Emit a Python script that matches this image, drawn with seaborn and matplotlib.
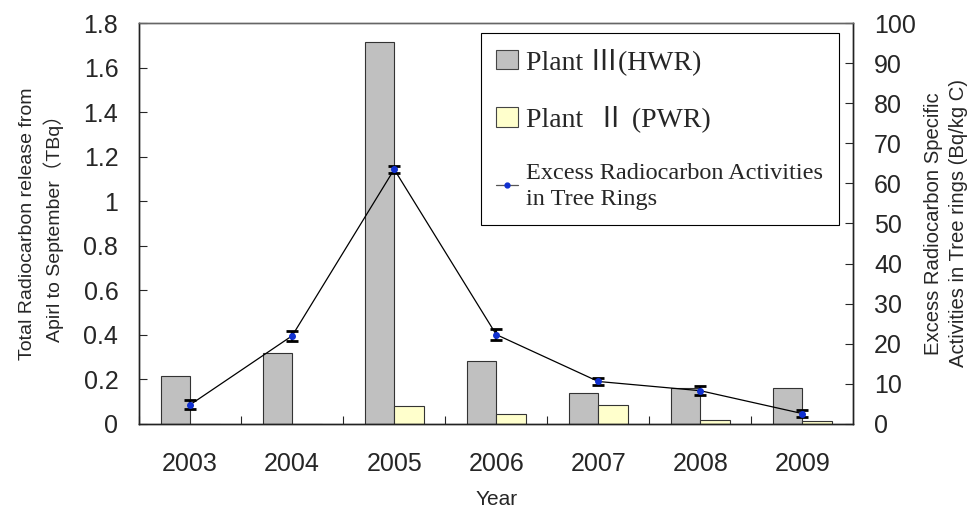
import numpy as np
import pandas as pd
import matplotlib
matplotlib.use('Agg')
import matplotlib.pyplot as plt
import seaborn as sns
from matplotlib.ticker import FuncFormatter, MultipleLocator
from matplotlib.lines import Line2D

# data
years = ['2003', '2004', '2005', '2006', '2007', '2008', '2009']
plant3_hwr = [0.216, 0.318, 1.715, 0.282, 0.138, 0.160, 0.160]
plant2_pwr = [0.0, 0.0, 0.080, 0.044, 0.084, 0.017, 0.012]
excess_act = [4.8, 22.0, 63.5, 22.3, 10.6, 8.3, 2.6]
excess_err = [1.1, 1.2, 0.9, 1.4, 0.9, 1.1, 0.9]

lab3 = 'Plant \u2162(HWR)'
lab2 = 'Plant  \u2161 (PWR)'
lab_line = 'Excess Radiocarbon Activities\nin Tree Rings'

sns.set_style('ticks')
plt.rcParams['font.family'] = ['Liberation Sans', 'Noto Sans CJK SC', 'DejaVu Sans']

df = pd.DataFrame({
    'Year': years * 2,
    'release': plant3_hwr + plant2_pwr,
    'plant': [lab3] * len(years) + [lab2] * len(years),
})

fig = plt.figure(figsize=(9.73, 5.08), dpi=100)
ax = fig.add_axes([0.143, 0.1654, 0.734, 0.7893])

sns.barplot(data=df, x='Year', y='release', hue='plant', ax=ax,
            palette=['#C0C0C0', '#FFFFCC'], width=0.58, dodge=True,
            edgecolor='#333333', linewidth=0.8, saturation=1)
ax.get_legend().remove()

ax.set_ylim(0, 1.8)
ax.set_xlim(-0.5, len(years) - 0.5)
ax.yaxis.set_major_locator(MultipleLocator(0.2))
ax.yaxis.set_major_formatter(FuncFormatter(lambda v, p: '%g' % round(v, 1)))
ax.tick_params(axis='y', direction='in', length=6, labelsize=18, width=0.8, pad=15)
ax.tick_params(axis='x', which='major', length=0, pad=20, labelsize=18)
ax.set_xticks(np.arange(len(years)) - 0.5, minor=True)
ax.tick_params(axis='x', which='minor', direction='in', length=6, width=0.8)
ax.set_xlabel('Year', fontsize=15, labelpad=10)
ax.set_ylabel('Total Radiocarbon release from\nApirl to September\uff08TBq\uff09',
              fontsize=14, labelpad=14, linespacing=1.45)

ax2 = ax.twinx()
xpos = np.arange(len(years))
ax2.plot(xpos, excess_act, color='black', lw=0.9, marker='o', ms=4,
         mfc='#1030D0', mec='#1030D0', zorder=3)
ax2.errorbar(xpos, excess_act, yerr=excess_err, fmt='none', ecolor='black',
             elinewidth=1.6, capsize=4, capthick=2, zorder=2)
ax2.set_ylim(0, 100)
ax2.yaxis.set_major_locator(MultipleLocator(10))
ax2.tick_params(axis='y', direction='in', length=6, labelsize=18, width=0.8, pad=15)
ax2.set_ylabel('Excess Radiocarbon Specific\nActivities in Tree rings (Bq/kg C)',
               fontsize=14.6, labelpad=6, linespacing=1.4)

for a in (ax, ax2):
    for s in a.spines.values():
        s.set_color('#222222')
        s.set_linewidth(1.0)
ax.spines['top'].set_color('#666666')
ax2.spines['top'].set_color('#666666')

handles, labels = ax.get_legend_handles_labels()
line_h = Line2D([0], [0], color='#555555', lw=0.9, marker='o', ms=3.5,
                mfc='#1030D0', mec='#1030D0')
leg = ax2.legend(handles[:2] + [line_h], [lab3, lab2, lab_line],
                 loc='upper left', bbox_to_anchor=(0.494, 0.935),
                 bbox_transform=fig.transFigure, borderaxespad=0,
                 frameon=True, fancybox=False, framealpha=1, edgecolor='black',
                 handlelength=0.8, handleheight=0.7, handletextpad=0.3,
                 labelspacing=1.1, borderpad=0.55,
                 prop={'family': ['Liberation Serif', 'Noto Sans CJK SC', 'DejaVu Serif'], 'size': 20})
leg.get_frame().set_linewidth(0.8)
leg.get_texts()[2].set_fontsize(17.5)
leg.get_texts()[2].set_linespacing(1.3)
# patches in legend get grey edges
for p in leg.get_patches():
    p.set_edgecolor('#444444')

fig.savefig('out.png', dpi=100)
